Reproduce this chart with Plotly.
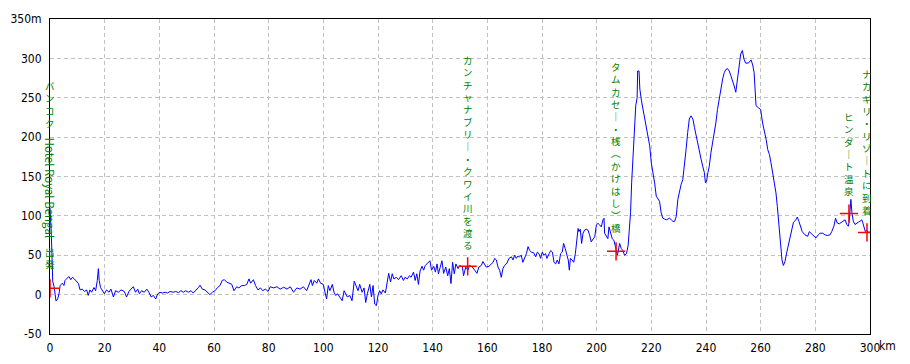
import plotly.graph_objects as go

# ---- data ----
km = [0, 0.5, 1.0, 1.5, 2.2, 2.8, 3.3, 3.7, 4.5, 5.1, 5.5, 6.2, 6.9, 7.6, 8.2, 8.9, 9.8, 10.4, 11.0, 11.8,
      12.6, 13.4, 14.0, 14.6, 15.2, 16.1, 16.7, 17.3, 17.7, 18.0, 18.5, 19.1, 19.9, 20.7, 21.6, 22.3, 23.2, 24.0,
      25.0, 26.0, 27.2, 28.0, 28.9, 29.6, 30.5, 31.3, 32.1, 32.7, 33.5, 34.5, 35.4, 36.2, 37.0, 37.8, 38.7, 39.4,
      40.2, 41.1, 42.1, 43.0, 43.9, 45.1, 46.0, 47.0, 47.9, 48.8, 49.6, 50.6, 51.6, 52.4, 53.3, 54.3, 54.9, 55.7,
      56.7, 57.7, 58.5, 59.4, 60.4, 61.3, 62.2, 63.0, 63.8, 64.6, 65.5, 66.5, 67.3, 68.3, 69.1, 70.1, 71.1, 72.0,
      72.8, 73.4, 74.4, 75.2, 76.1, 77.0, 77.8, 78.8, 79.8, 80.6, 81.8, 83.0, 84.2, 85.5, 86.7, 87.9, 89.1, 90.3,
      91.5, 92.7, 93.9, 94.8, 95.5, 96.0, 96.7, 97.6, 98.2, 99.0, 100.0, 100.6, 101.2, 101.8, 102.4, 103.3, 103.9,
      104.5, 105.2, 106.0, 106.9, 107.6, 108.1, 108.8, 109.7, 110.5, 111.3, 111.9, 112.7, 113.3, 114.2, 114.9,
      115.5, 116.1, 117.0, 117.6, 118.2, 118.8, 119.4, 120.0, 120.6, 121.2, 121.8, 122.7, 123.4, 123.9, 124.6,
      125.2, 125.8, 126.7, 127.5, 128.5, 129.3, 129.9, 130.7, 131.5, 132.1, 133.0, 133.6, 134.2, 134.8, 135.4,
      136.1, 136.7, 137.3, 138.2, 139.0, 139.6, 140.4, 141.0, 141.6, 142.1, 142.8, 143.4, 144.0, 144.8, 145.5,
      146.1, 146.7, 147.3, 147.9, 148.5, 149.3, 149.9, 150.9, 151.3, 152.1, 152.9, 153.5, 154.5, 155.4, 156.2,
      156.9, 157.8, 158.4, 159.0, 159.6, 160.6, 161.5, 162.1, 162.7, 163.3, 163.9, 164.5, 165.1, 165.7, 166.3,
      167.2, 167.9, 168.8, 169.4, 170.0, 170.6, 171.2, 171.8, 172.4, 173.0, 173.7, 174.3, 174.9, 175.5, 176.1,
      177.0, 177.7, 178.3, 178.9, 179.5, 180.1, 180.7, 181.3, 181.8, 182.6, 183.2, 183.8, 184.4, 185.0, 185.6,
      186.2, 186.8, 187.4, 187.9, 188.5, 189.1, 189.6, 190.0, 190.4, 191.0, 191.6, 192.2, 192.6, 193.2, 193.5,
      194.0, 194.5, 195.0, 195.6, 196.2, 196.8, 197.4, 198.0, 198.7, 199.3, 199.9, 200.5, 201.1, 201.7, 202.3,
      202.7, 202.9, 203.5, 204.1, 204.5, 205.1, 205.7, 206.3, 206.6, 207.2, 207.6, 207.9, 208.4, 209.0, 209.6,
      210.2, 210.9, 211.5, 211.9, 212.4, 212.8, 213.3, 213.8, 214.3, 214.8, 215.0, 215.5, 215.8, 216.4, 217.0,
      217.6, 218.2, 218.8, 219.4, 220.0, 220.6, 221.2, 221.8, 222.4, 223.0, 223.6, 224.2, 224.8, 225.5, 226.1,
      226.7, 227.3, 227.9, 228.5, 229.1, 229.7, 230.3, 230.9, 231.5, 232.1, 232.7, 233.3, 233.9, 234.5, 235.2,
      235.8, 236.4, 237.0, 237.6, 238.2, 238.8, 239.4, 239.8, 240.2, 240.7, 241.2, 241.8, 242.4, 243.0, 243.6,
      244.2, 244.8, 245.5, 246.1, 246.7, 247.3, 247.9, 248.5, 249.1, 249.7, 250.3, 250.9, 251.5, 252.1, 252.7,
      253.3, 253.9, 254.5, 255.5, 256.5, 257.1, 257.6, 257.9, 258.3, 259.1, 260.0, 260.7, 261.3, 262.0, 262.6,
      263.2, 263.8, 264.4, 265.0, 265.6, 266.1, 266.5, 266.8, 267.3, 267.8, 268.3, 268.9, 269.5, 270.1, 270.7,
      271.3, 272.0, 272.9, 273.4, 274.0, 274.6, 275.2, 276.2, 277.2, 277.8, 278.4, 279.3, 280.2, 281.1, 281.7,
      282.7, 283.5, 284.4, 285.4, 286.0, 286.8, 287.4, 288.0, 288.8, 289.6, 290.2, 290.9, 291.5, 292.1, 292.4,
      292.7, 293.0, 293.4, 293.9, 294.5, 295.1, 295.7, 296.3, 297.0, 297.3, 297.8, 298.3, 298.8, 299.3, 299.8]

elevation = [110, 75, 17, 10, -8, -5.5, 1, 11.5, 14.5, 11.5, 18, 20, 23, 19, 22, 20, 16, 14, 6, 7,
             4, 6, -1, 6, 3, 9, 5, 18, 33, 18, 9, 5, 1, 6, 3, 7, -3, 5,
             3, 6, 4, -3, 4, 7, 10, 3, 7, 1, 5, 3, 7, 3, -3, -1, -5.5, 1,
             3, 2, 3, 2, 4, 3, 4, 2.5, 5, 3, 5, 3, 5, 2, 5, 9, 12, 7,
             6, 3, 0, 3, 5, 9, 11.5, 18, 19, 16, 14.5, 13, 5, 10, 8.5, 11.5, 11.5, 13,
             20, 14.5, 19, 11.5, 6, 8.5, 5, 7, 4, 10, 8.5, 10, 7, 9.4, 7, 10, 3, 8.5,
             7, 10, 5, 14.5, 19, 11.5, 18, 14.5, 20, 14.5, 13, 3, -5.5, 11.5, 5, 13, 3,
             -1, 1, -3, -7.7, 5, 1, -3, -1, -7.7, 17, 11.5, 5, 13, 3, 8.5,
             -10, 1, 13, -3, 11.5, -12, -14, -1, 5, 1, 6, 2, 19, 27, 16,
             26.5, 20, 22, 19, 24, 18, 22, 20, 24, 22, 28.6, 18, 26.5, 13, 30,
             36, 31, 37, 41, 43, 31, 36, 28.6, 39, 26.5, 34, 43, 27, 35, 24,
             33, 14, 41, 26.5, 39, 33, 37, 35, 24, 35, 31, 37, 35, 31, 27,
             35, 37, 42, 38, 35, 36, 39, 41, 46, 44, 35, 31, 22, 33, 37,
             40, 46, 48, 44, 50, 46, 49, 48, 50, 41, 48, 52, 61, 56, 54,
             53, 48, 54, 52, 46, 54, 50, 52, 46, 52, 56, 54, 41, 39, 44,
             39, 52, 54, 65, 58.5, 50, 44, 31, 46, 44, 41, 52, 69, 84, 80,
             83, 65, 78, 82, 83, 82, 76, 67, 71, 73.5, 88.5, 90.5, 88.5, 86, 95,
             97, 78, 73.5, 71, 86, 78, 71, 69, 63, 56, 50, 58.5, 65, 58.5, 56,
             50, 52, 62, 78, 104, 142, 176, 218, 240, 250, 284, 284, 261, 246, 235,
             223, 210, 201, 189, 167, 155, 142, 125, 121, 118.5, 104, 97, 96, 95, 96,
             97, 95, 93, 93, 99, 121, 133, 140, 146, 163, 184, 206, 223, 227, 223,
             212, 201, 189, 180, 172, 163, 155, 142, 144, 155, 163, 180, 193, 201, 218,
             235, 248, 261, 274, 282, 286, 287, 284, 278, 272, 265, 257, 274, 291, 305.5,
             310, 299, 294, 294, 298, 291.5, 282, 269, 240, 237.5, 235, 218, 210, 197, 184,
             178, 167, 155, 142, 129, 112, 95, 78, 57, 44, 37, 42, 53, 63, 74,
             82, 92, 95, 98.5, 93, 87, 80, 76, 74, 80, 78, 74, 72, 76, 78,
             78, 76, 75, 76, 80, 87, 97, 91, 90, 92, 93, 95, 89, 87, 93,
             104, 121, 104, 93, 89, 91, 92, 93, 95, 92, 85, 80, 82, 79, 80]

# waypoints (red crosses)
point_km = [0, 152.8, 207.1, 292.3, 298.9]
point_elev = [8, 36, 55, 103, 79]

x_tick_vals = list(range(0, 301, 20))
x_tick_text = [str(v) for v in range(0, 301, 20)]
y_tick_vals = list(range(-50, 351, 50))
y_tick_text = ["-50", "0", "50", "100", "150", "200", "250", "300", "350m"]

fig = go.Figure()
fig.add_trace(go.Scatter(x=km, y=elevation, mode="lines",
                         line=dict(color="#0000ff", width=1), hoverinfo="skip"))
fig.add_trace(go.Scatter(x=point_km, y=point_elev, mode="markers",
                         marker=dict(symbol="cross-thin", size=13,
                                     line=dict(color="#ff0000", width=1.5)),
                         hoverinfo="skip"))

CJK = "Noto Sans CJK JP"
GREEN = "#008000"


def vert(s):
    m = {"ー": "｜", "（": "︵", "）": "︶"}
    return "<br>".join(m.get(c, c) for c in s)


labels = [
    # (text, x km, bottom y in m)
    ("出発", 0, 27),
    ("バンコク", 0, 207),
    ("カンチャナブリー・クワイ川を渡る", 152.8, 52),
    ("タムカセー・桟（かけはし）橋", 207.1, 73),
    ("ヒンダート温泉", 292.3, 120),
    ("ナカギリ・リゾートに到着", 298.8, 96),
]
for text, xk, yb in labels:
    fig.add_annotation(x=xk, y=yb, xref="x", yref="y", text=vert(text), showarrow=False,
                       xanchor="center", yanchor="bottom", align="center",
                       font=dict(family=CJK, size=9.5, color=GREEN))

fig.add_annotation(x=0, y=136, xref="x", yref="y", text="Hotel Royal Bengal", showarrow=False,
                   textangle=90, xanchor="center", yanchor="middle",
                   font=dict(family=CJK, size=11.5, color=GREEN))

tickfont = dict(family="Liberation Sans Narrow, DejaVu Sans Condensed, Arial Narrow, sans-serif",
                size=12, color="black")

fig.add_annotation(x=1, y=0, xref="paper", yref="paper", text="km", showarrow=False,
                   xanchor="left", yanchor="top", xshift=7, yshift=-3, font=tickfont)

fig.update_xaxes(range=[0, 300], tickvals=x_tick_vals, ticktext=x_tick_text,
                 showgrid=True, gridcolor="#c0c0c0", griddash="4px,3px", gridwidth=1,
                 showline=True, linecolor="black", linewidth=1, mirror=True,
                 zeroline=False, ticks="", tickfont=tickfont, ticklabelstandoff=3,
                 automargin=False)
fig.update_yaxes(range=[-50, 350], tickvals=y_tick_vals, ticktext=y_tick_text,
                 showgrid=True, gridcolor="#c0c0c0", griddash="4px,3px", gridwidth=1,
                 showline=True, linecolor="black", linewidth=1, mirror=True,
                 zeroline=False, ticks="", tickfont=tickfont, ticklabelstandoff=5,
                 automargin=False)

# the page body has an 8px margin; shrink the figure so the plot box lands where the reference has it
fig.update_layout(width=902, height=356, showlegend=False,
                  margin=dict(l=42, r=40, t=11, b=30, autoexpand=False),
                  paper_bgcolor="white", plot_bgcolor="white")

fig.write_html("out.html")
